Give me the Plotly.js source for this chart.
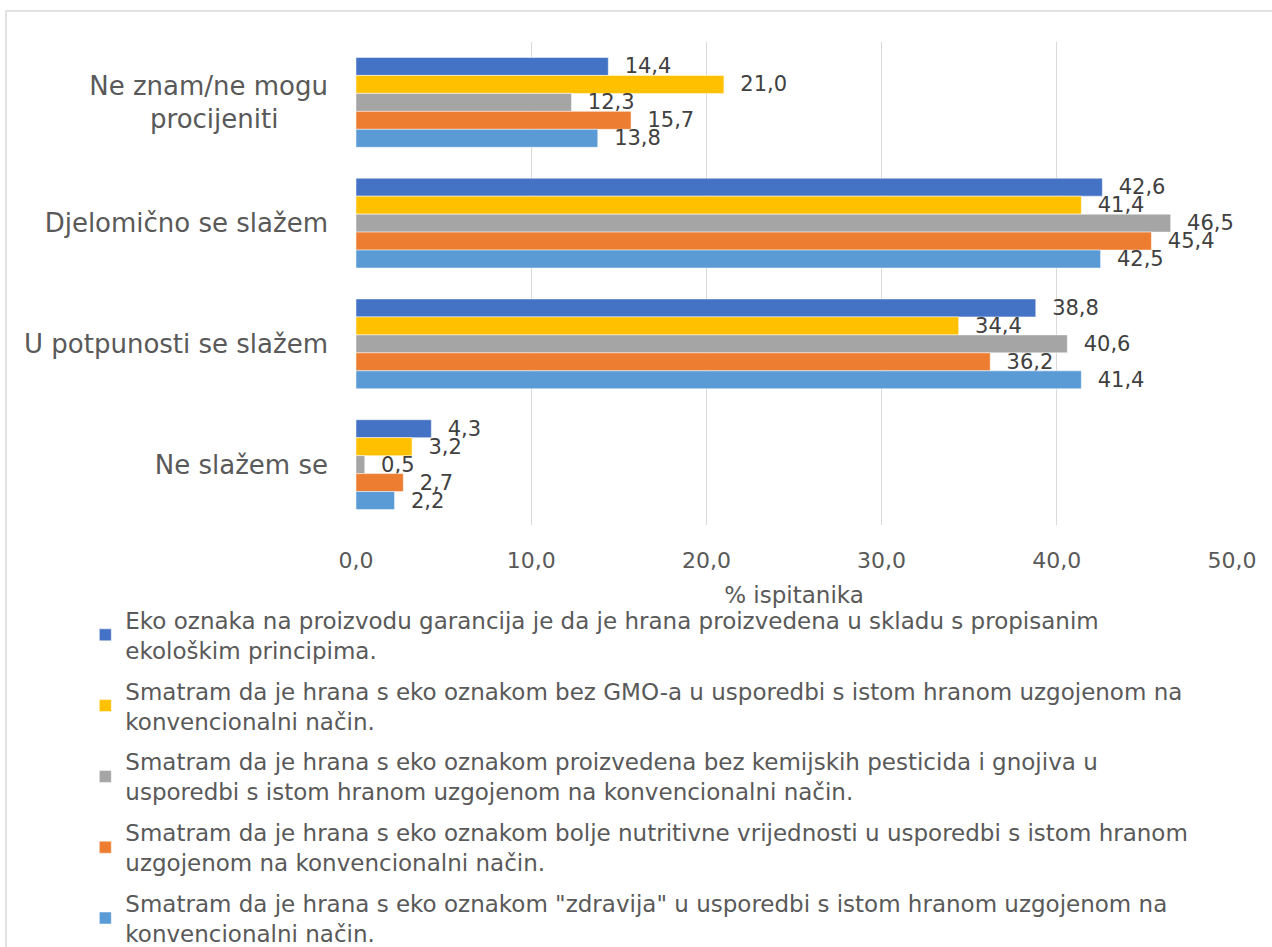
<!DOCTYPE html>
<html>
<head>
<meta charset="utf-8">
<script src="https://cdn.plot.ly/plotly-3.0.1.min.js"></script>
<style>html,body{margin:0;padding:0;background:#fff;}#chart{width:1272px;height:947px;}</style>
</head>
<body>
<div id="chart"></div>
<script>
const categories = ["Ne znam/ne mogu procijeniti", "Djelomično se slažem", "U potpunosti se slažem", "Ne slažem se"];
const categoryTickLabels = ["Ne znam/ne mogu<br>procijeniti\u00a0\u00a0\u00a0\u00a0\u00a0\u00a0", "Djelomično se slažem", "U potpunosti se slažem", "Ne slažem se"];
const seriesNames = [
  "Eko oznaka na proizvodu garancija je da je hrana proizvedena u skladu s propisanim<br>ekološkim principima.",
  "Smatram da je hrana s eko oznakom bez GMO-a u usporedbi s istom hranom uzgojenom na<br>konvencionalni način.",
  "Smatram da je hrana s eko oznakom proizvedena bez kemijskih pesticida i gnojiva u<br>usporedbi s istom hranom uzgojenom na konvencionalni način.",
  "Smatram da je hrana s eko oznakom bolje nutritivne vrijednosti u usporedbi s istom hranom<br>uzgojenom na konvencionalni način.",
  "Smatram da je hrana s eko oznakom \"zdravija\" u usporedbi s istom hranom uzgojenom na<br>konvencionalni način."
];
const ekoOznakaGarancija = [14.4, 42.6, 38.8, 4.3];
const bezGMO = [21.0, 41.4, 34.4, 3.2];
const bezPesticida = [12.3, 46.5, 40.6, 0.5];
const nutritivneVrijednosti = [15.7, 45.4, 36.2, 2.7];
const zdravija = [13.8, 42.5, 41.4, 2.2];
const xTickValues = [0, 10, 20, 30, 40, 50];

const seriesValues = [ekoOznakaGarancija, bezGMO, bezPesticida, nutritivneVrijednosti, zdravija];
const colors = ["#4472C4", "#FFC000", "#A5A5A5", "#ED7D31", "#5B9BD5"];
const FONT = "DejaVu Sans, Verdana, sans-serif";
const TXT = "#595959";

const traces = seriesValues.map((vals, i) => ({
  type: "bar",
  orientation: "h",
  name: seriesNames[i],
  legendgroup: "g" + i,
  y: categories,
  x: vals,
  marker: {color: colors[i], line: {color: "#ffffff", width: 0.5}},
  texttemplate: "\u00a0\u00a0%{x:.1f}",
  textposition: "outside",
  constraintext: "none",
  cliponaxis: false,
  textfont: {family: FONT, size: 21, color: "#404040"},
  hoverinfo: "x+name"
}));

const layout = {
  width: 1272,
  height: 947,
  margin: {l: 356, r: 40, t: 42, b: 422, pad: 0, autoexpand: false},
  paper_bgcolor: "#ffffff",
  plot_bgcolor: "#ffffff",
  separators: ",.",
  barmode: "group",
  bargap: 0.256,
  bargroupgap: 0,
  font: {family: FONT, color: TXT},
  showlegend: true,
  legend: {
    orientation: "v",
    x: -0.309, xanchor: "left",
    y: -0.152, yanchor: "top",
    font: {family: FONT, size: 23, color: TXT},
    tracegroupgap: 8,
    traceorder: "grouped",
    bgcolor: "rgba(0,0,0,0)"
  },
  xaxis: {
    range: [0, 50],
    tickmode: "array",
    tickvals: xTickValues,
    tickformat: ".1f",
    showgrid: true,
    gridcolor: "#d9d9d9",
    gridwidth: 1.3,
    zeroline: false,
    showline: false,
    ticks: "",
    ticklabelstandoff: 20,
    tickfont: {family: FONT, size: 22, color: TXT},
    title: {text: "% ispitanika", font: {family: FONT, size: 23, color: TXT}, standoff: 14}
  },
  yaxis: {
    type: "category",
    categoryorder: "array",
    categoryarray: categories,
    autorange: "reversed",
    tickmode: "array",
    tickvals: categories,
    ticktext: categoryTickLabels,
    showgrid: false,
    zeroline: false,
    showline: false,
    ticks: "",
    ticklabelstandoff: 27,
    tickfont: {family: FONT, size: 26, color: TXT}
  },
  shapes: [{
    type: "rect", xref: "paper", yref: "paper",
    x0: -0.3995, x1: 1.1, y0: -1.0, y1: 1.064,
    line: {color: "#d9d9d9", width: 1.5}, fillcolor: "rgba(0,0,0,0)", layer: "below"
  }]
};

Plotly.newPlot("chart", traces, layout, {displayModeBar: false, staticPlot: true});
</script>
</body>
</html>
